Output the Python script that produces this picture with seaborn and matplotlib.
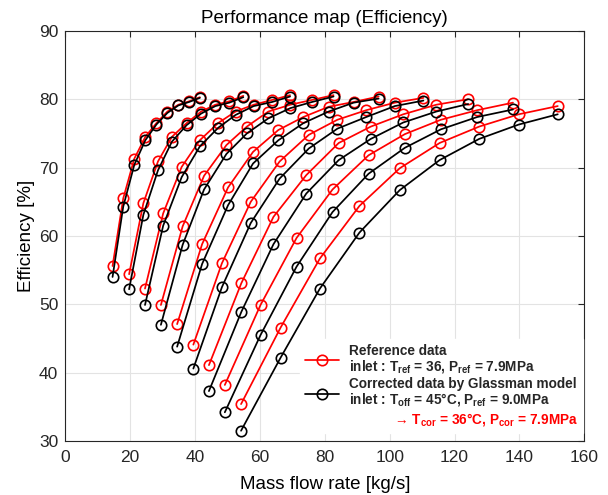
import matplotlib
matplotlib.use("Agg")
import matplotlib.pyplot as plt
import seaborn as sns
import pandas as pd
from matplotlib.lines import Line2D
from matplotlib.font_manager import FontProperties

# ---- data (9 speed lines, 9 points each) ----
line_ids = [1, 2, 3, 4, 5, 6, 7, 8, 9]

mass_flow = [
    [14.6, 17.9, 21.3, 24.7, 28.1, 31.5, 34.9, 38.2, 41.5],
    [19.7, 24.1, 28.6, 32.9, 37.4, 41.9, 46.3, 50.6, 54.9],
    [24.6, 30.2, 35.9, 41.5, 47.1, 52.5, 58.1, 63.8, 69.3],
    [29.5, 36.2, 42.8, 49.7, 56.0, 62.6, 69.4, 76.1, 82.7],
    [34.5, 42.2, 50.2, 57.9, 65.7, 73.4, 81.2, 88.9, 96.6],
    [39.5, 48.3, 57.2, 66.1, 75.1, 83.9, 92.8, 101.6, 110.4],
    [44.3, 54.3, 64.2, 74.3, 84.3, 94.2, 104.2, 114.4, 124.2],
    [49.2, 60.2, 71.3, 82.4, 93.5, 104.7, 115.8, 127.0, 138.0],
    [54.2, 66.4, 78.5, 90.7, 103.1, 115.4, 127.6, 139.8, 151.8],
]

eff_reference = [
    [55.6, 65.5, 71.3, 74.5, 76.5, 78.2, 79.2, 79.7, 80.3],
    [54.4, 64.8, 70.9, 74.5, 76.5, 78.2, 79.2, 79.7, 80.5],
    [52.3, 63.3, 70.1, 74.0, 76.5, 78.2, 79.2, 79.9, 80.6],
    [49.9, 61.4, 68.8, 73.3, 76.0, 78.2, 79.2, 79.9, 80.6],
    [47.1, 58.8, 67.1, 72.3, 75.5, 77.4, 78.9, 79.6, 80.4],
    [44.1, 56.0, 65.0, 70.9, 74.8, 77.0, 78.4, 79.5, 80.2],
    [41.1, 53.1, 62.8, 68.9, 73.6, 76.0, 77.8, 79.2, 80.0],
    [38.2, 49.9, 59.7, 66.8, 71.8, 74.9, 77.0, 78.4, 79.5],
    [35.4, 46.6, 56.7, 64.4, 69.9, 73.6, 76.0, 77.8, 79.0],
]

eff_corrected = [
    [54.0, 64.3, 70.4, 74.0, 76.3, 78.0, 79.1, 79.6, 80.2],
    [52.2, 63.1, 69.6, 73.8, 76.2, 77.9, 79.0, 79.5, 80.3],
    [49.9, 61.5, 68.6, 73.1, 75.8, 77.7, 79.0, 79.6, 80.4],
    [47.0, 58.7, 66.8, 72.0, 75.0, 77.2, 78.7, 79.6, 80.4],
    [43.8, 55.9, 64.5, 70.6, 74.0, 76.5, 78.2, 79.5, 80.1],
    [40.6, 52.5, 61.9, 68.4, 72.8, 75.7, 77.4, 79.0, 79.8],
    [37.3, 48.9, 58.8, 66.2, 71.1, 74.2, 76.6, 78.2, 79.3],
    [34.2, 45.5, 55.5, 63.5, 69.1, 72.9, 75.6, 77.4, 78.5],
    [31.5, 42.2, 52.3, 60.5, 66.7, 71.1, 74.2, 76.3, 77.8],
]

x_ticks = [0, 20, 40, 60, 80, 100, 120, 140, 160]
y_ticks = [30, 40, 50, 60, 70, 80, 90]

title_text = "Performance map (Efficiency)"
x_label = "Mass flow rate [kg/s]"
y_label = "Efficiency [%]"
legend_labels = [
    "Reference data\ninlet : T$_{\\mathbf{ref}}$ = 36, P$_{\\mathbf{ref}}$ = 7.9MPa",
    "Corrected data by Glassman model\ninlet : T$_{\\mathbf{off}}$ = 45\u00b0C, P$_{\\mathbf{ref}}$ = 9.0MPa",
    "            \u2192 T$_{\\mathbf{cor}}$ = 36\u00b0C, P$_{\\mathbf{cor}}$ = 7.9MPa",
]

# ---- long-format table ----
rows = []
for lid, xs, yr, yc in zip(line_ids, mass_flow, eff_reference, eff_corrected):
    for x, a, b in zip(xs, yr, yc):
        rows.append({"line": lid, "flow": x, "ref": a, "cor": b})
df = pd.DataFrame(rows)

sns.set_theme(style="white")
FAMILY = ["Liberation Sans", "DejaVu Sans"]
plt.rcParams["font.family"] = FAMILY
plt.rcParams["mathtext.fontset"] = "custom"
plt.rcParams["mathtext.rm"] = "Liberation Sans"
plt.rcParams["mathtext.bf"] = "Liberation Sans:bold"
plt.rcParams["mathtext.it"] = "Liberation Sans:italic"

RED = "#ff0000"
BLACK = "#000000"
DARK = "#262626"

fig = plt.figure(figsize=(6.08, 4.95), dpi=100)
ax = fig.add_axes([0.1072, 0.1091, 0.8539, 0.8285])

common = dict(estimator=None, sort=False, units="line", marker="o",
              markersize=7.5, markerfacecolor="none", markeredgewidth=1.2,
              linewidth=1.25, legend=False, ax=ax)
sns.lineplot(data=df, x="flow", y="ref", color=RED, markeredgecolor=RED, **common)
sns.lineplot(data=df, x="flow", y="cor", color=BLACK, markeredgecolor=BLACK, **common)

ax.set_xlim(0, 160)
ax.set_ylim(30, 90)
ax.set_xticks(x_ticks)
ax.set_yticks(y_ticks)
ax.grid(True, color="#e3e3e3", linewidth=0.8)
ax.set_axisbelow(True)
ax.tick_params(direction="in", top=True, right=True, length=4.5, width=0.8,
               colors=DARK, labelsize=12.5, pad=5)
ax.tick_params(axis="x", pad=6.5)
for sp in ax.spines.values():
    sp.set_color(DARK)
    sp.set_linewidth(0.8)

ax.set_title(title_text, fontsize=13.5, color=BLACK, pad=6)
ax.set_xlabel(x_label, fontsize=13.5, color=BLACK, labelpad=8)
ax.set_ylabel(y_label, fontsize=13.5, color=BLACK, labelpad=3)

h1 = Line2D([], [], color=RED, marker="o", markerfacecolor="none",
            markeredgecolor=RED, markersize=7.5, markeredgewidth=1.2, linewidth=1.25)
h2 = Line2D([], [], color=BLACK, marker="o", markerfacecolor="none",
            markeredgecolor=BLACK, markersize=7.5, markeredgewidth=1.2, linewidth=1.25)
h3 = Line2D([], [], linestyle="none")
leg_font = FontProperties(family=FAMILY, weight="bold", size=9.8)
leg = ax.legend([h1, h2, h3], legend_labels, loc="lower right",
                bbox_to_anchor=(0.998, 0.02), prop=leg_font,
                frameon=True, facecolor="white", edgecolor="white", framealpha=1,
                fancybox=False, handlelength=2.5, handletextpad=0.75,
                labelspacing=0.2, borderpad=0.35, borderaxespad=0.0)
for t in leg.get_texts():
    t.set_linespacing(1.0)
leg.get_texts()[2].set_color(RED)

fig.savefig("out.png", dpi=100)
